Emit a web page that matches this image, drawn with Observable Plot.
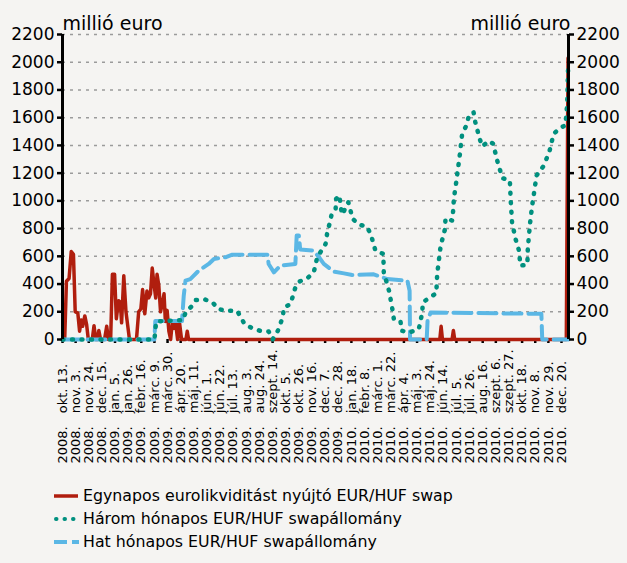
<!DOCTYPE html>
<html><head><meta charset="utf-8">
<script src="https://cdn.jsdelivr.net/npm/d3@7"></script>
<script src="https://cdn.jsdelivr.net/npm/@observablehq/plot@0.6"></script>
<style>
body{margin:0;background:#f5f4f2;font-family:"DejaVu Sans",sans-serif;}
#chart svg{display:block;}
.legend{padding:12px 0 0 53px;font-size:15.8px;line-height:23px;color:#000;width:560px}
.legend div{display:flex;align-items:center;height:23px}
.legend svg{margin-right:4px;flex:none}
</style></head><body>
<div id="chart"></div>
<div class="legend" id="legend"></div>
<script>
// x-axis labels (one every 3 weeks; position index = week number from 2008-10-13)
const tickLabels = [
"2008. okt. 13.","2008. nov. 3.","2008. nov. 24.","2008. dec. 15.",
"2009. jan. 5.","2009. jan. 26.","2009. febr. 16.","2009. márc. 9.","2009. márc. 30.","2009. ápr. 20.",
"2009. máj. 11.","2009. jún. 1.","2009. jún. 22.","2009. júl. 13.","2009. aug. 3.","2009. aug. 24.",
"2009. szept. 14.","2009. okt. 5.","2009. okt. 26.","2009. nov. 16.","2009. dec. 7.","2009. dec. 28.",
"2010. jan. 18.","2010. febr. 8.","2010. márc. 1.","2010. márc. 22.","2010. ápr. 4.","2010. máj. 3.",
"2010. máj. 24.","2010. jún. 14.","2010. júl. 5.","2010. júl. 26.","2010. aug. 16.","2010. szept. 6.",
"2010. szept. 27.","2010. okt. 18.","2010. nov. 8.","2010. nov. 29.","2010. dec. 20."
];
const yTicks = [0,200,400,600,800,1000,1200,1400,1600,1800,2000,2200];
const seriesNames = ["Egynapos eurolikviditást nyújtó EUR/HUF swap","Három hónapos EUR/HUF swapállomány","Hat hónapos EUR/HUF swapállomány"];
const unitLabel = "millió euro";

// Egynapos (overnight) swap – week, value
const redWeeks  = [0,0.5,0.9,1.5,2.0,2.5,2.9,3.5,3.9,4.3,4.6,5.1,5.5,5.9,6.8,7.2,7.6,8.0,8.3,8.7,9.6,10.1,10.5,11.0,11.4,11.9,12.3,12.8,13.2,13.5,14.0,14.5,14.9,15.3,16.9,17.4,17.9,18.3,18.8,19.3,19.7,20.1,20.5,20.9,21.3,21.6,22.0,22.4,22.8,23.2,23.5,23.9,24.3,24.7,25.1,25.5,25.8,26.3,26.7,27.2,28.2,28.5,28.8,86.2,86.5,86.8,89.0,89.3,89.6,115.1,115.5];
const redValues = [0,0,420,440,635,615,200,190,60,140,95,170,110,0,0,100,0,0,65,0,0,95,0,0,470,470,150,280,270,120,460,200,100,0,0,200,220,360,185,350,300,330,515,400,300,470,390,200,260,330,130,210,60,0,130,80,130,0,130,0,0,60,0,0,95,0,0,65,0,0,2030];

// Három hónapos (three-month) swap stock
const tealWeeks  = [0,21.0,21.4,27.6,28.1,29.4,30.4,32.5,34.3,35.6,37.6,39.9,41.6,43.3,45.1,47.1,48.0,49.2,50.3,50.6,52.1,53.2,54.2,55.9,57.4,58.2,60.1,60.5,61.2,61.5,62.4,62.5,63.3,63.5,63.9,65.3,65.8,66.3,67.7,69.5,70.4,71.5,73.3,73.4,74.6,75.3,75.7,77.2,77.5,79.3,81.4,82.2,82.3,83.7,85.4,85.6,86.4,87.4,87.5,89.0,89.3,89.4,89.8,90.3,90.8,91.3,92.3,92.8,93.9,94.3,95.3,95.9,97.4,98.4,99.3,100.5,102.2,102.4,102.7,103.5,104.3,104.6,106.2,106.3,106.8,107.3,107.7,108.3,110.0,111.3,112.2,113.8,114.9,115.3,115.5];
const tealValues = [0,0,130,140,195,236,284,289,267,219,207,207,111,82,63,58,0,63,159,231,255,376,419,441,484,593,689,774,858,906,942,1015,1039,966,901,990,930,870,829,815,762,641,617,484,352,231,147,135,63,51,75,195,267,299,333,472,677,798,875,858,942,1015,1099,1219,1340,1484,1545,1610,1641,1569,1448,1393,1432,1412,1292,1164,1147,1003,846,725,641,533,540,653,834,966,1051,1183,1256,1364,1484,1528,1545,1700,1950];

// Hat hónapos (six-month) swap stock
const blueWeeks  = [0,21.0,21.2,27.3,27.7,28.1,29.2,31.1,33.4,34.6,37.2,38.8,46.8,47.1,48.3,49.8,53.2,53.5,54.0,54.3,57.4,58.6,59.7,62.0,64.3,66.2,71.1,74.2,78.8,79.3,79.4,83.2,83.4,84.1,109.4,109.6,115.6];
const blueValues = [0,0,133,133,316,424,436,496,545,581,593,612,612,545,484,533,545,750,750,650,641,593,545,489,477,465,470,436,424,352,0,0,135,195,185,0,0];

const C = {red:"#b01e0e", teal:"#00907f", blue:"#5bb7e5"};
const xMax = 115.6;
const labelWeeks = tickLabels.map((_, i) => i * 3);
const rows = (w, v) => w.map((x, i) => ({x, y: v[i]}));

const chart = Plot.plot({
  width: 627, height: 472,
  marginLeft: 62, marginRight: 59, marginTop: 34, marginBottom: 133,
  style: {fontFamily: '"DejaVu Sans",sans-serif', background: "transparent", color: "#000", fontSize: "17px"},
  x: {domain: [0, xMax]},
  y: {domain: [0, 2200]},
  marks: [
    Plot.ruleY(yTicks.filter(d => d > 0), {stroke: "#9b9b9b", strokeWidth: 1.5, strokeDasharray: "3,5"}),
    Plot.axisX(labelWeeks, {tickSize: 4, strokeWidth: 2.5, tickFormat: () => "", label: null}),
    Plot.line(rows(redWeeks, redValues), {x: "x", y: "y", stroke: C.red, strokeWidth: 3.5}),
    Plot.line(rows(blueWeeks, blueValues), {x: "x", y: "y", stroke: C.blue, strokeWidth: 4, strokeDasharray: "18,7"}),
    Plot.line(rows(tealWeeks, tealValues), {x: "x", y: "y", stroke: C.teal, strokeWidth: 4.5, strokeDasharray: "1,8.5", strokeLinecap: "round"}),
    Plot.ruleX([0, xMax], {stroke: "#000", strokeWidth: 3}),
    Plot.axisY(yTicks, {anchor: "left", tickSize: 5, strokeWidth: 2.5, tickPadding: 3, fontSize: 17, tickFormat: d => String(d), label: null}),
    Plot.axisY(yTicks, {anchor: "right", tickSize: 5, strokeWidth: 2.5, tickPadding: 3, fontSize: 17, tickFormat: d => String(d), label: null}),
    Plot.text(labelWeeks, {x: d => d, text: (d, i) => tickLabels[i].replace(" ", "\u2003"), frameAnchor: "bottom", rotate: -90, textAnchor: "start", lineAnchor: "middle", dy: 124, fontSize: 13}),
    Plot.text([unitLabel], {text: d => d, frameAnchor: "top-left", textAnchor: "start", dy: -18, fontSize: 19}),
    Plot.text([unitLabel], {text: d => d, frameAnchor: "top-right", textAnchor: "end", dx: 2, dy: -18, fontSize: 19})
  ]
});
document.getElementById("chart").append(chart);

const sw = [
  `<svg width="26" height="10"><line x1="1" y1="5" x2="25" y2="5" stroke="${C.red}" stroke-width="3.5"/></svg>`,
  `<svg width="26" height="10"><line x1="3" y1="5" x2="25" y2="5" stroke="${C.teal}" stroke-width="4" stroke-dasharray="0.5,8" stroke-linecap="round"/></svg>`,
  `<svg width="26" height="10"><line x1="1" y1="5" x2="26" y2="5" stroke="${C.blue}" stroke-width="4" stroke-dasharray="13,5"/></svg>`
];
document.getElementById("legend").innerHTML = seriesNames.map((n, i) => `<div>${sw[i]}<span>${n}</span></div>`).join("");
</script>
</body></html>
